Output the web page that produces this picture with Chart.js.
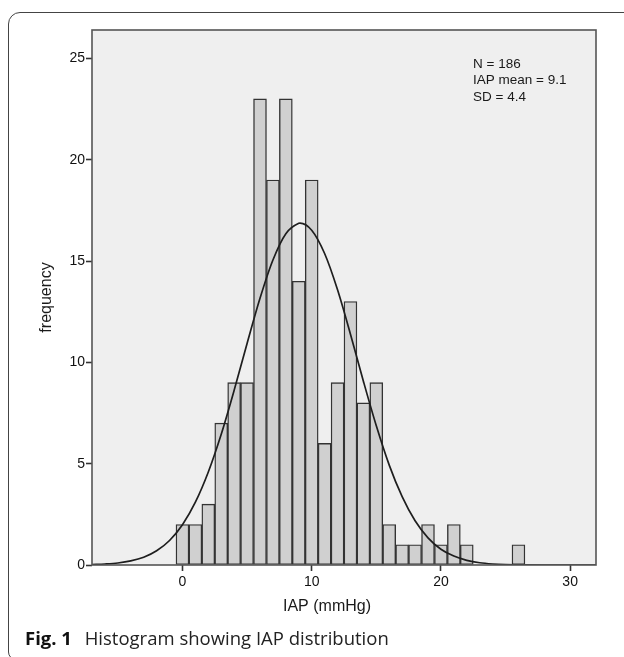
<!DOCTYPE html>
<html>
<head>
<meta charset="utf-8">
<script src="https://cdn.jsdelivr.net/npm/chart.js@4/dist/chart.umd.min.js"></script>
<style>
    body { margin: 0; background: #ffffff; }
    #wrap { position: relative; width: 624px; height: 657px; overflow: hidden; }
    #frame {
        position: absolute; left: 8px; top: 12px; width: 700px; height: 646px;
        border: 1.3px solid #444444; border-top-left-radius: 12px; border-bottom-left-radius: 8px;
    }
    #histChart { position: absolute; left: 0; top: 0; }
    #caption {
        position: absolute; left: 25px; top: 628px; font-family: "Open Sans", sans-serif;
        font-size: 18.5px; line-height: 19px; color: #222222; white-space: nowrap;
    }
    #caption b { margin-right: 8px; color: #111111; }
</style>
</head>
<body>
<div id="wrap">
    <div id="frame"></div>
    <canvas id="histChart" width="624" height="657"></canvas>
    <div id="caption"><b>Fig. 1</b> Histogram showing IAP distribution</div>
</div>
<script>
// histogram bins (IAP, mmHg) and counts
var binCenters = [0, 1, 2, 3, 4, 5, 6, 7, 8, 9, 10, 11, 12, 13, 14, 15, 16, 17, 18, 19, 20, 21, 22, 23, 24, 25, 26];
var counts = [2, 2, 3, 7, 9, 9, 23, 19, 23, 14, 19, 6, 9, 13, 8, 9, 2, 1, 1, 2, 1, 2, 1, 0, 0, 0, 1];

// normal curve
var curveX = [-7, -6, -5, -4, -3, -2, -1, 0, 1, 2, 3, 4, 5, 6, 7, 8, 9, 9.1, 10, 11, 12, 13, 14, 15, 16, 17, 18, 19, 20, 21, 22, 23, 24, 25, 26, 28, 30, 32];
var curveY = [0.02, 0.05, 0.1, 0.2, 0.38, 0.7, 1.21, 1.99, 3.1, 4.59, 6.45, 8.62, 10.93, 13.16, 15.05, 16.35, 16.86, 16.87, 16.52, 15.37, 13.58, 11.39, 9.07, 6.87, 4.93, 3.37, 2.18, 1.34, 0.78, 0.44, 0.23, 0.11, 0.05, 0.02, 0.01, 0, 0, 0];

var xTicks = [0, 10, 20, 30];
var yTicks = [0, 5, 10, 15, 20, 25];
var statLines = ["N = 186", "IAP mean = 9.1", "SD = 4.4"];
var xTitle = "IAP (mmHg)";
var yTitle = "frequency";

var tickFont = { family: "'Liberation Sans', Arial, sans-serif", size: 14 };

var barData = binCenters.map(function (x, i) { return { x: x, y: counts[i] }; });
var curveData = curveX.map(function (x, i) { return { x: x, y: curveY[i] }; });

var plotBox = {
    id: 'plotBox',
    beforeDatasetsDraw: function (chart) {
        var a = chart.chartArea, ctx = chart.ctx;
        ctx.save();
        ctx.fillStyle = '#efefef';
        ctx.fillRect(a.left, a.top, a.right - a.left, a.bottom - a.top);
        ctx.restore();
    },
    afterDatasetsDraw: function (chart) {
        var a = chart.chartArea, ctx = chart.ctx;
        ctx.save();
        ctx.strokeStyle = '#555555';
        ctx.lineWidth = 1.6;
        ctx.strokeRect(a.left, a.top, a.right - a.left, a.bottom - a.top);
        ctx.restore();
    },
    afterDraw: function (chart) {
        var ctx = chart.ctx;
        ctx.save();
        ctx.fillStyle = '#1a1a1a';
        ctx.textBaseline = 'middle';
        ctx.font = "16px 'Liberation Sans', Arial, sans-serif";
        ctx.textAlign = 'center';
        ctx.fillText(xTitle, 327, 607);
        ctx.font = "13.5px 'Liberation Sans', Arial, sans-serif";
        ctx.textAlign = 'left';
        statLines.forEach(function (t, i) {
            ctx.fillText(t, 473, 64 + i * 16.5);
        });
        ctx.restore();
    }
};

var ctx = document.getElementById("histChart").getContext('2d');

new Chart(ctx, {
    data: {
        datasets: [{
            type: 'line',
            data: curveData,
            borderColor: '#1e1e1e',
            borderWidth: 1.7,
            pointRadius: 0,
            cubicInterpolationMode: 'monotone',
            fill: false
        }, {
            type: 'bar',
            data: barData,
            backgroundColor: '#d0d0d0',
            borderColor: '#333333',
            borderWidth: 1.4,
            borderSkipped: false,
            barPercentage: 1,
            categoryPercentage: 1
        }]
    },
    options: {
        responsive: false,
        animation: false,
        layout: { padding: { left: 0, top: 30, right: 28, bottom: 62 } },
        plugins: {
            legend: { display: false },
            tooltip: { enabled: false }
        },
        scales: {
            x: {
                type: 'linear',
                min: -7,
                max: 32,
                offset: false,
                afterBuildTicks: function (scale) {
                    scale.ticks = xTicks.map(function (v) { return { value: v }; });
                },
                afterFit: function (scale) { scale.height = 30; },
                ticks: { font: tickFont, color: '#111111', padding: 3 },
                grid: { offset: false, drawOnChartArea: false, tickLength: 6, tickColor: '#333333', tickWidth: 1.6 },
                border: { display: false }
            },
            y: {
                min: 0,
                max: 26.4,
                afterBuildTicks: function (scale) {
                    scale.ticks = yTicks.map(function (v) { return { value: v }; });
                },
                afterFit: function (scale) { scale.width = 92; },
                ticks: { font: tickFont, color: '#111111', padding: 1 },
                grid: { drawOnChartArea: false, tickLength: 6, tickColor: '#333333', tickWidth: 1.6 },
                border: { display: false },
                title: {
                    display: true,
                    text: yTitle,
                    color: '#1a1a1a',
                    font: { family: "'Liberation Sans', Arial, sans-serif", size: 16 },
                    padding: { top: 37, bottom: 0 }
                }
            }
        }
    },
    plugins: [plotBox]
});
</script>
</body>
</html>
